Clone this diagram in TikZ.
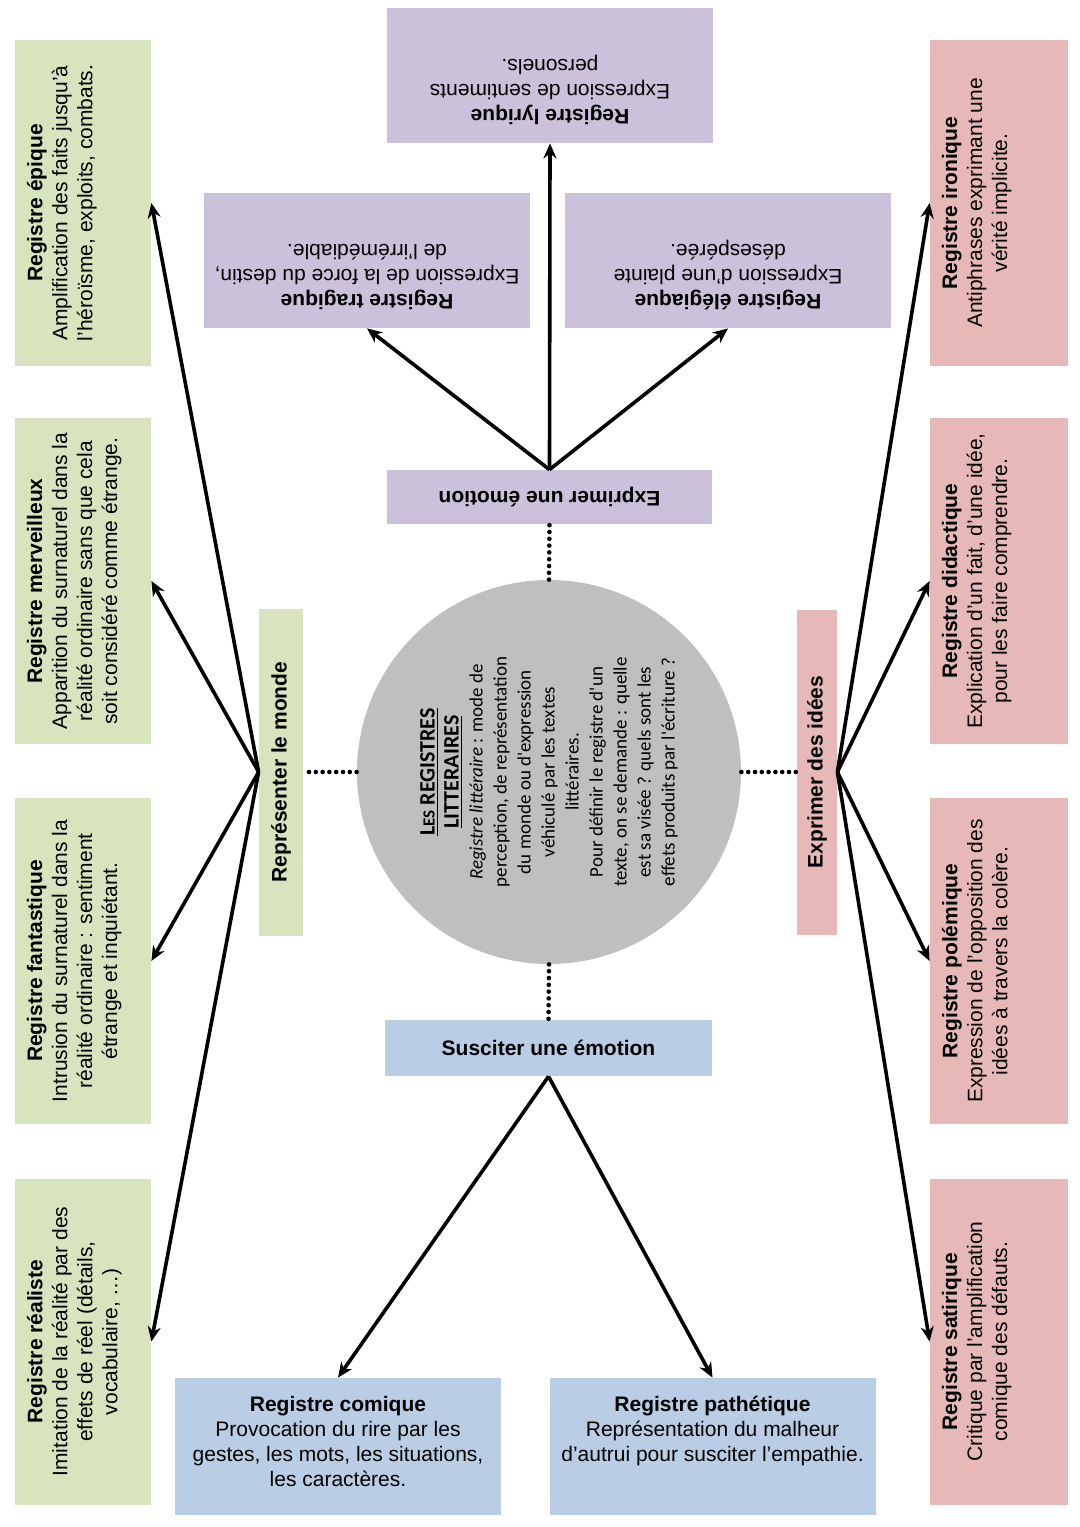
\documentclass[tikz,border=0pt]{standalone}
\usepackage{fontspec}
\setmainfont{Liberation Sans}
\newfontfamily\circfont{Carlito}
\usepackage{graphicx}
\usetikzlibrary{arrows.meta}
\definecolor{vert}{HTML}{D7E4BD}
\definecolor{rose}{HTML}{E6B9B8}
\definecolor{mauve}{HTML}{CCC1DA}
\definecolor{bleu}{HTML}{B9CDE5}
\definecolor{gris}{HTML}{BFBFBF}
\tikzstyle{bx}=[inner sep=0pt, font=\fontsize{10.5}{12.5}\selectfont]
\tikzstyle{hub}=[bx]
\tikzstyle{fleche}=[line width=1.8pt, -{Stealth[length=7.5pt,width=6.5pt]}]
\tikzstyle{pointille}=[line width=2.3pt, dash pattern=on 0pt off 3.4pt, line cap=round]
\newcommand{\boite}[5]{\rotatebox{#1}{\parbox[c][#3][t]{#2}{\centering\vspace*{#4}#5}}}

\begin{document}
\begin{tikzpicture}[x=0.5pt, y=-0.5pt]
%%frame
\useasboundingbox (0,0) rectangle (1080,1527);
%%centre
\node (centre) at (549,772) [circle, fill=gris, minimum size=192pt, inner sep=0pt] {};
\node (titre) at (centre) [rotate=90, align=center, font=\circfont\fontsize{9.5}{12}\selectfont]
{\underline{\textbf{\fontsize{11}{12}\selectfont L{\fontsize{8.5}{12}\selectfont ES} REGISTRES}}\\
\underline{\textbf{\fontsize{11}{12}\selectfont LITTERAIRES}}\\
\textit{Registre littéraire} : mode de\\
perception, de représentation\\
du monde ou d'expression\\
véhiculé par les textes\\
littéraires.\\
Pour définir le registre d'un\\
texte, on se demande : quelle\\
est sa visée ? quels sont les\\
effets produits par l'écriture ?};
%%hubs
\node (emotion) at (549.5,497) [hub, fill=mauve, minimum width=162.5pt, minimum height=27pt] {\rotatebox{180}{\textbf{Exprimer une émotion}}};
\node (susciter) at (548.5,1048) [hub, fill=bleu, minimum width=163.5pt, minimum height=28pt] {\textbf{Susciter une émotion}};
\node (monde) at (281,772) [hub, fill=vert, minimum width=22pt, minimum height=163.5pt] {\rotatebox{90}{\textbf{Représenter le monde}}};
\node (idees) at (817,772) [hub, fill=rose, minimum width=20pt, minimum height=162.5pt] {\rotatebox{90}{\textbf{Exprimer des idées}}};
%%top
\node (lyrique) at (550,75.5) [bx, fill=mauve] {\boite{180}{163pt}{67.5pt}{9pt}{\textbf{Registre lyrique}\\Expression de sentiments\\personels.}};
\node (tragique) at (367,260.5) [bx, fill=mauve] {\boite{180}{163pt}{67.5pt}{9pt}{\textbf{Registre tragique}\\Expression de la force du destin,\\de l'irrémédiable.}};
\node (elegiaque) at (728,260.5) [bx, fill=mauve] {\boite{180}{163pt}{67.5pt}{9pt}{\textbf{Registre élégiaque}\\Expression d'une plainte\\désespérée.}};
%%left
\node (epique) at (83,203) [bx, fill=vert] {\boite{90}{163pt}{68pt}{6pt}{\textbf{Registre épique}\\Amplification des faits jusqu'à\\l'héroïsme, exploits, combats.}};
\node (merveilleux) at (83,581) [bx, fill=vert] {\boite{90}{163pt}{68pt}{6pt}{\textbf{Registre merveilleux}\\Apparition du surnaturel dans la\\réalité ordinaire sans que cela\\soit considéré comme étrange.}};
\node (fantastique) at (83,961) [bx, fill=vert] {\boite{90}{163pt}{68pt}{6pt}{\textbf{Registre fantastique}\\Intrusion du surnaturel dans la\\réalité ordinaire : sentiment\\étrange et inquiétant.}};
\node (realiste) at (83,1341.5) [bx, fill=vert] {\boite{90}{163pt}{68pt}{6pt}{\textbf{Registre réaliste}\\Imitation de la réalité par des\\effets de réel (détails,\\vocabulaire, …)}};
%%right
\node (ironique) at (999,203) [bx, fill=rose] {\boite{90}{163pt}{69pt}{6pt}{\textbf{Registre ironique}\\Antiphrases exprimant une\\vérité implicite.}};
\node (didactique) at (999,581) [bx, fill=rose] {\boite{90}{163pt}{69pt}{6pt}{\textbf{Registre didactique}\\Explication d'un fait, d'une idée,\\pour les faire comprendre.}};
\node (polemique) at (999,961) [bx, fill=rose] {\boite{90}{163pt}{69pt}{6pt}{\textbf{Registre polémique}\\Expression de l'opposition des\\idées à travers la colère.}};
\node (satirique) at (999,1341.5) [bx, fill=rose] {\boite{90}{163pt}{69pt}{6pt}{\textbf{Registre satirique}\\Critique par l'amplification\\comique des défauts.}};
%%bottom
\node (comique) at (338,1446.5) [bx, fill=bleu] {\boite{0}{163pt}{68.5pt}{9pt}{\textbf{Registre comique}\\Provocation du rire par les\\gestes, les mots, les situations,\\les caractères.}};
\node (pathetique) at (712.5,1446.5) [bx, fill=bleu] {\boite{0}{163pt}{68.5pt}{9pt}{\textbf{Registre pathétique}\\Représentation du malheur\\d'autrui pour susciter l'empathie.}};
%%dots
\draw[pointille] (centre.north) -- (emotion.south);
\draw[pointille] (centre.south) -- (susciter.north);
\draw[pointille] (centre.west) -- (monde.east);
\draw[pointille] (centre.east) -- (idees.west);
%%arrows
\draw[fleche] (emotion.north) -- (lyrique.south);
\draw[fleche] (emotion.north) -- (tragique.south);
\draw[fleche] (emotion.north) -- (elegiaque.south);
\draw[fleche] (susciter.south) -- (comique.north);
\draw[fleche] (susciter.south) -- (pathetique.north);
\draw[fleche] (monde.west) -- (epique.east);
\draw[fleche] (monde.west) -- (merveilleux.east);
\draw[fleche] (monde.west) -- (fantastique.east);
\draw[fleche] (monde.west) -- (realiste.east);
\draw[fleche] (idees.east) -- (ironique.west);
\draw[fleche] (idees.east) -- (didactique.west);
\draw[fleche] (idees.east) -- (polemique.west);
\draw[fleche] (idees.east) -- (satirique.west);
\end{tikzpicture}
\end{document}
